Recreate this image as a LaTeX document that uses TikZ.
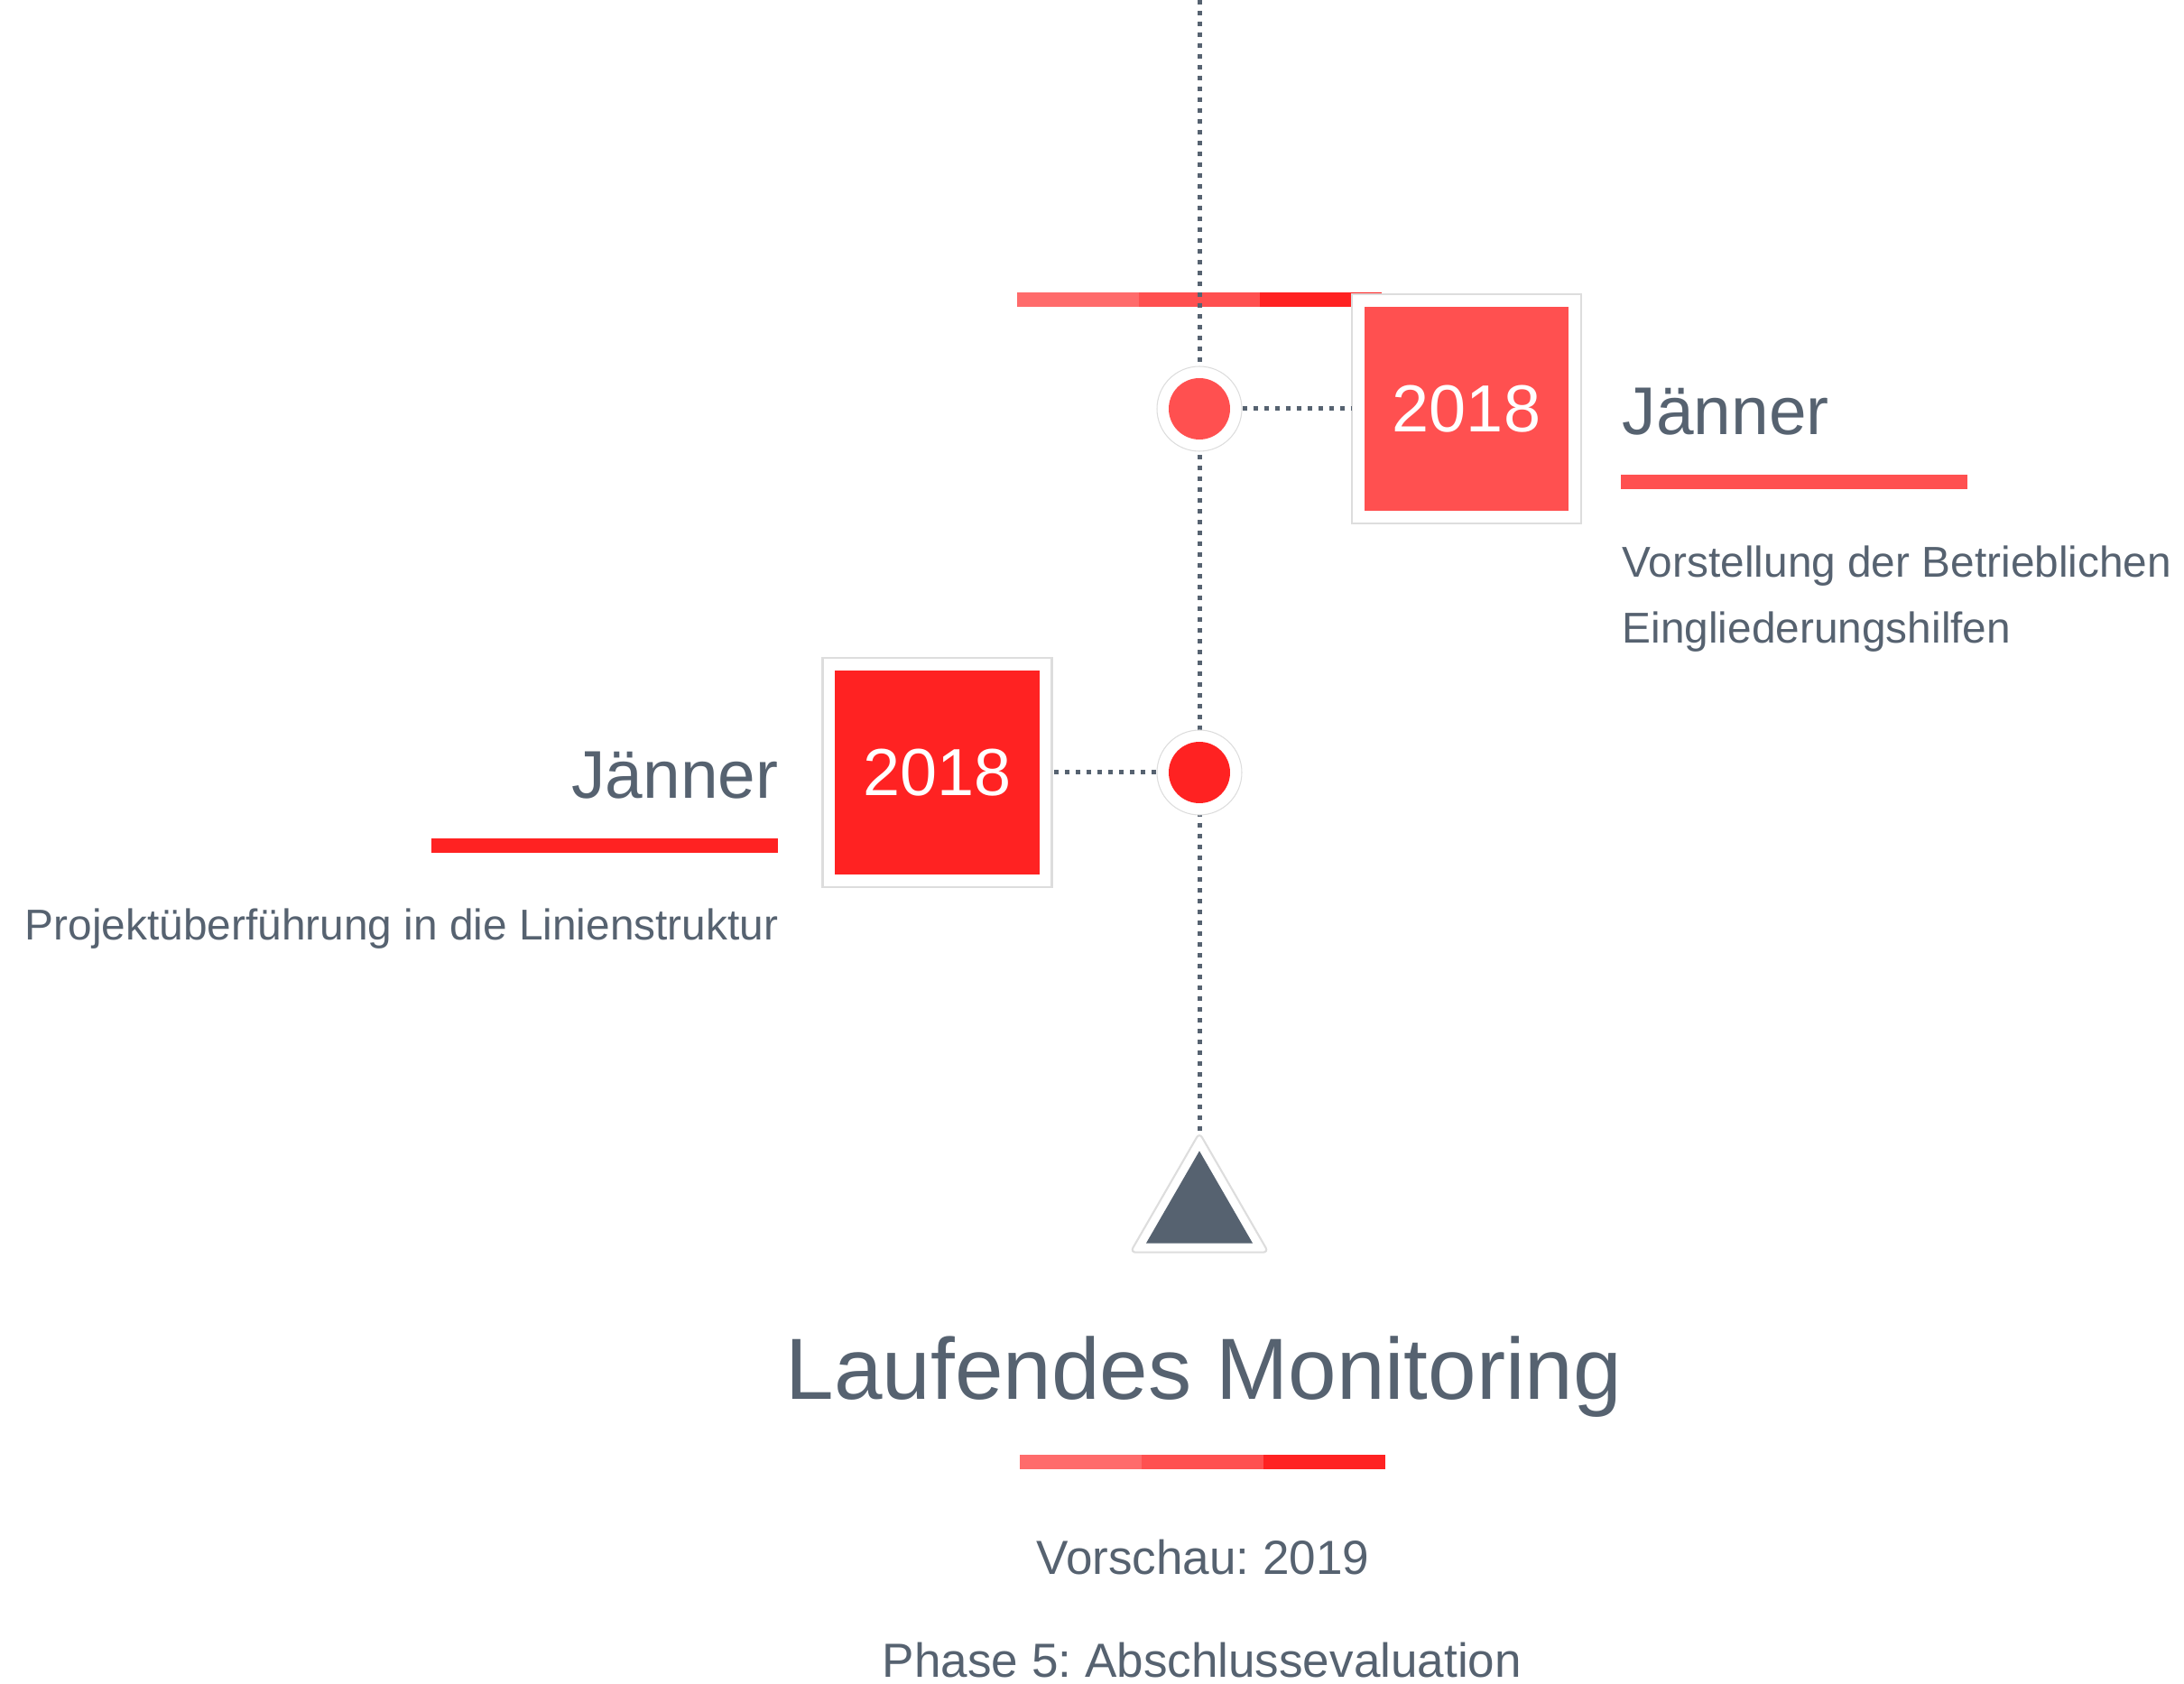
\documentclass[tikz,border=0pt]{standalone}
\usepackage{fontspec}
\setmainfont{Liberation Sans}
\usetikzlibrary{shapes.geometric}

\definecolor{slate}{RGB}{86,98,112}
\definecolor{redlight}{RGB}{255,107,107}
\definecolor{redmid}{RGB}{255,80,80}
\definecolor{reddark}{RGB}{255,34,34}
\definecolor{rim}{RGB}{221,221,221}

\begin{document}
\frenchspacing
\begin{tikzpicture}[
        % Dotted timeline style
        timeline/.style={draw=slate, line width=0.05cm, dash pattern=on 0.05cm off 0.07cm},
        % Milestone: white ring with a coloured dot
        ring/.style={circle, fill=white, draw=rim, line width=0.3pt, minimum size=0.94cm, inner sep=0},
        milestone/.style={circle, fill=#1, minimum size=0.68cm, inner sep=0},
        % Year badge in a white frame
        badgeframe/.style={fill=white, draw=rim, line width=0.6pt, minimum size=2.54cm, inner sep=0},
        badge/.style={fill=#1, minimum size=2.26cm, inner sep=0, text=white, font=\fontsize{21}{25}\selectfont},
        % Text styles
        month/.style={text=slate, inner sep=0, font=\fontsize{21.3}{26}\selectfont},
        desc/.style={text=slate, inner sep=0, align=left, font=\fontsize{13.6}{20.8}\selectfont},
        footer/.style={text=slate, inner sep=0, font=\fontsize{15.1}{18}\selectfont}
    ]

    \useasboundingbox (-13.29,0) rectangle (10.91,-18.66);

    % Three-tone bar at the top
    \fill[redlight] (-2.02,-3.24) rectangle (-0.675,-3.40);
    \fill[redmid] (-0.675,-3.24) rectangle (0.67,-3.40);
    \fill[reddark] (0.67,-3.24) rectangle (2.02,-3.40);

    % End marker of the timeline
    \node[regular polygon, regular polygon sides=3, minimum size=1.767cm, inner sep=0,
          fill=white, draw=rim, line width=0.6pt, rounded corners=0.06cm] (endmark) at (0,-13.435) {};
    \node[regular polygon, regular polygon sides=3, minimum size=1.363cm, inner sep=0,
          fill=slate] (endtri) at (0,-13.435) {};

    % Main timeline
    \coordinate (top) at (0,0);
    \draw[timeline] (top) -- (endmark.north);

    % First milestone (right)
    \node[ring] (ringA) at (0,-4.53) {};
    \node[milestone=redmid] (dotA) at (0,-4.53) {};
    \node[badgeframe] (frameA) at (2.96,-4.53) {};
    \node[badge=redmid] (yearA) at (2.96,-4.53) {2018};
    \draw[timeline] (ringA) -- (frameA);

    \node[month, anchor=base west] (monthA) at (4.68,-4.82) {Jänner};
    \fill[redmid] (4.67,-5.26) rectangle (8.51,-5.42);
    % base of a two-line node sits on its last line
    \node[desc, anchor=base west] (descA) at (4.68,-7.13) {Vorstellung der Betrieblichen\\Eingliederungshilfen};

    % Second milestone (left)
    \node[ring] (ringB) at (0,-8.56) {};
    \node[milestone=reddark] (dotB) at (0,-8.56) {};
    \node[badgeframe] (frameB) at (-2.905,-8.56) {};
    \node[badge=reddark] (yearB) at (-2.905,-8.56) {2018};
    \draw[timeline] (ringB) -- (frameB);

    \node[month, anchor=base east] (monthB) at (-4.66,-8.85) {Jänner};
    \fill[reddark] (-8.51,-9.29) rectangle (-4.67,-9.45);
    \node[desc, anchor=base east] (descB) at (-4.66,-10.41) {Projektüberführung in die Linienstruktur};

    % Phase title and outlook
    \node[text=slate, inner sep=0, font=\fontsize{27.4}{32}\selectfont, anchor=base] (title) at (0.05,-15.50) {Laufendes Monitoring};
    \fill[redlight] (-1.99,-16.12) rectangle (-0.64,-16.28);
    \fill[redmid] (-0.64,-16.12) rectangle (0.71,-16.28);
    \fill[reddark] (0.71,-16.12) rectangle (2.06,-16.28);

    \node[footer, anchor=base] (preview) at (0.04,-17.44) {Vorschau: 2019};
    \node[footer, anchor=base] (phase) at (0.03,-18.58) {Phase 5: Abschlussevaluation};

\end{tikzpicture}
\end{document}
